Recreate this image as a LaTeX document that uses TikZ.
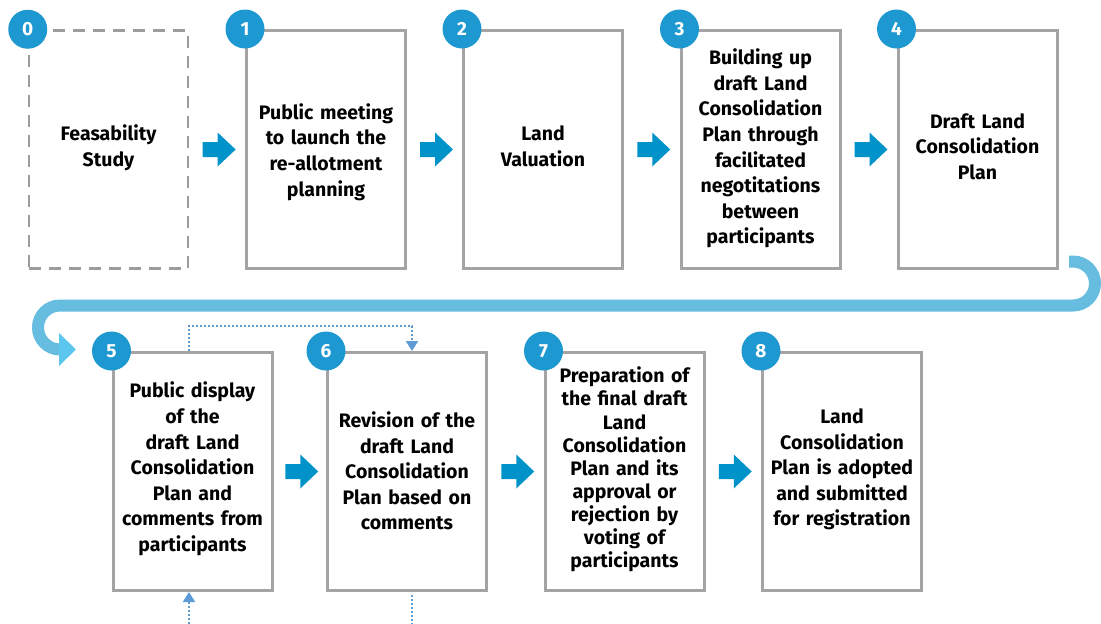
\documentclass[tikz,border=0pt]{standalone}
\usepackage{fontspec}
\setmainfont{Fira Sans}
\usetikzlibrary{arrows.meta,calc}
\definecolor{numc}{HTML}{1E98D0}
\definecolor{arrc}{HTML}{0093C9}
\definecolor{curvec}{HTML}{66BDDF}
\definecolor{tipc}{HTML}{5CC6EE}
\definecolor{dotc}{HTML}{5E9BD6}
\definecolor{boxc}{HTML}{A4A4A4}
\definecolor{dashc}{HTML}{9C9C9C}
\newcommand\boxfont{\bfseries\fontsize{19.5}{25.6}\selectfont}
\newcommand\tightfont{\bfseries\fontsize{19.5}{23.1}\selectfont}
\newcommand\numfont{\bfseries\fontsize{19}{19}\selectfont}
\tikzset{
  box/.style={draw=boxc, line width=3pt, minimum width=159pt, minimum height=238pt, inner sep=0pt},
  dashbox/.style={box, draw=dashc, line width=2.5pt, dash pattern=on 12pt off 8pt},
  txt/.style={inner sep=0pt, align=center, text width=150pt, font=\boxfont},
  num/.style={circle, fill=numc, text=white, minimum size=39pt, inner sep=0pt, font=\numfont},
  blockarr/.pic={\fill[arrc] (-16.5,-7.5) -- (-1.5,-7.5) -- (-1.5,-17) -- (16.5,0) -- (-1.5,17) -- (-1.5,7.5) -- (-16.5,7.5) -- cycle;},
  dotl/.style={draw=dotc, line width=2pt, dash pattern=on 2pt off 2pt},
  dottip/.style={-{Triangle[length=10pt,width=12pt]}},
}
\begin{document}
\begin{tikzpicture}[x=1pt,y=-1pt]
\useasboundingbox (0,0) rectangle (1101,624);
% boxes, top row
\node[dashbox] (b0) at (108.5,149.5) {};
\node[box] (b1) at (326,149.5) {};
\node[box] (b2) at (543,149.5) {};
\node[box] (b3) at (760.5,149.5) {};
\node[box] (b4) at (977.5,149.5) {};
% boxes, bottom row
\node[box] (b5) at (192.5,471.5) {};
\node[box] (b6) at (407,471.5) {};
\node[box] (b7) at (624.5,471.5) {};
\node[box] (b8) at (842,471.5) {};
% box texts
\node[txt] (t0) at ([yshift=1.5pt]b0.center) {Feasability\\Study};
\node[txt] (t1) at ([yshift=-2.5pt]b1.center) {Public meeting\\to launch the\\re-allotment\\planning};
\node[txt] (t2) at ([yshift=3.5pt]b2.center) {Land\\Valuation};
\node[txt] (t3) at ([yshift=1pt]b3.center) {Building up\\draft Land\\Consolidation\\Plan through\\facilitated\\negotitations\\between\\participants};
\node[txt] (t4) at ([yshift=3pt]b4.center) {Draft Land\\Consolidation\\Plan};
\node[txt] (t5) at ([yshift=2.5pt]b5.center) {Public display\\of the\\draft Land\\Consolidation\\Plan and\\comments from\\participants};
\node[txt] (t6) at ([yshift=0.5pt]b6.center) {Revision of the\\draft Land\\Consolidation\\Plan based on\\comments};
\node[txt, font=\tightfont] (t7) at ([yshift=2pt]b7.center) {Preparation of\\the final draft\\Land\\Consolidation\\Plan and its\\approval or\\rejection by\\voting of\\participants};
\node[txt] (t8) at ([yshift=2pt]b8.center) {Land\\Consolidation\\Plan is adopted\\and submitted\\for registration};
% number circles
\foreach \i in {0,...,8} {\node[num] (n\i) at (b\i.north west) {\i};}
% block arrows
\foreach \a/\b in {0/1,1/2,2/3,3/4,5/6,6/7,7/8} {
  \path (b\a.east) -- coordinate[pos=0.5] (m\a\b) (b\b.west);
  \path ([xshift=2pt]m\a\b) pic {blockarr};
}
% curved connector from row 1 to row 2
\coordinate (c1) at (1069,261.5);
\coordinate (c2) at (76,349.5);
\draw[curvec, line width=12pt, rounded corners=22pt,
  -{Triangle[length=17pt,width=32pt,color=tipc,fill=tipc]}]
  (c1) -- (1095,261.5) -- (1095,305.5) -- (38,305.5) -- (38,349.5) -- (c2);
% dotted feedback connectors
\draw[dotl, dottip] ([xshift=-3.5pt]b5.north) -- ++(0,-25) -| ([xshift=5pt]b6.north);
\coordinate (d1) at (189,624);
\draw[dotl, dottip] (d1) -- (d1 |- b5.south);
\coordinate (d2) at (412,624);
\draw[dotl] ([xshift=5pt]b6.south) ++(0,3) -- (d2);
\end{tikzpicture}
\end{document}
